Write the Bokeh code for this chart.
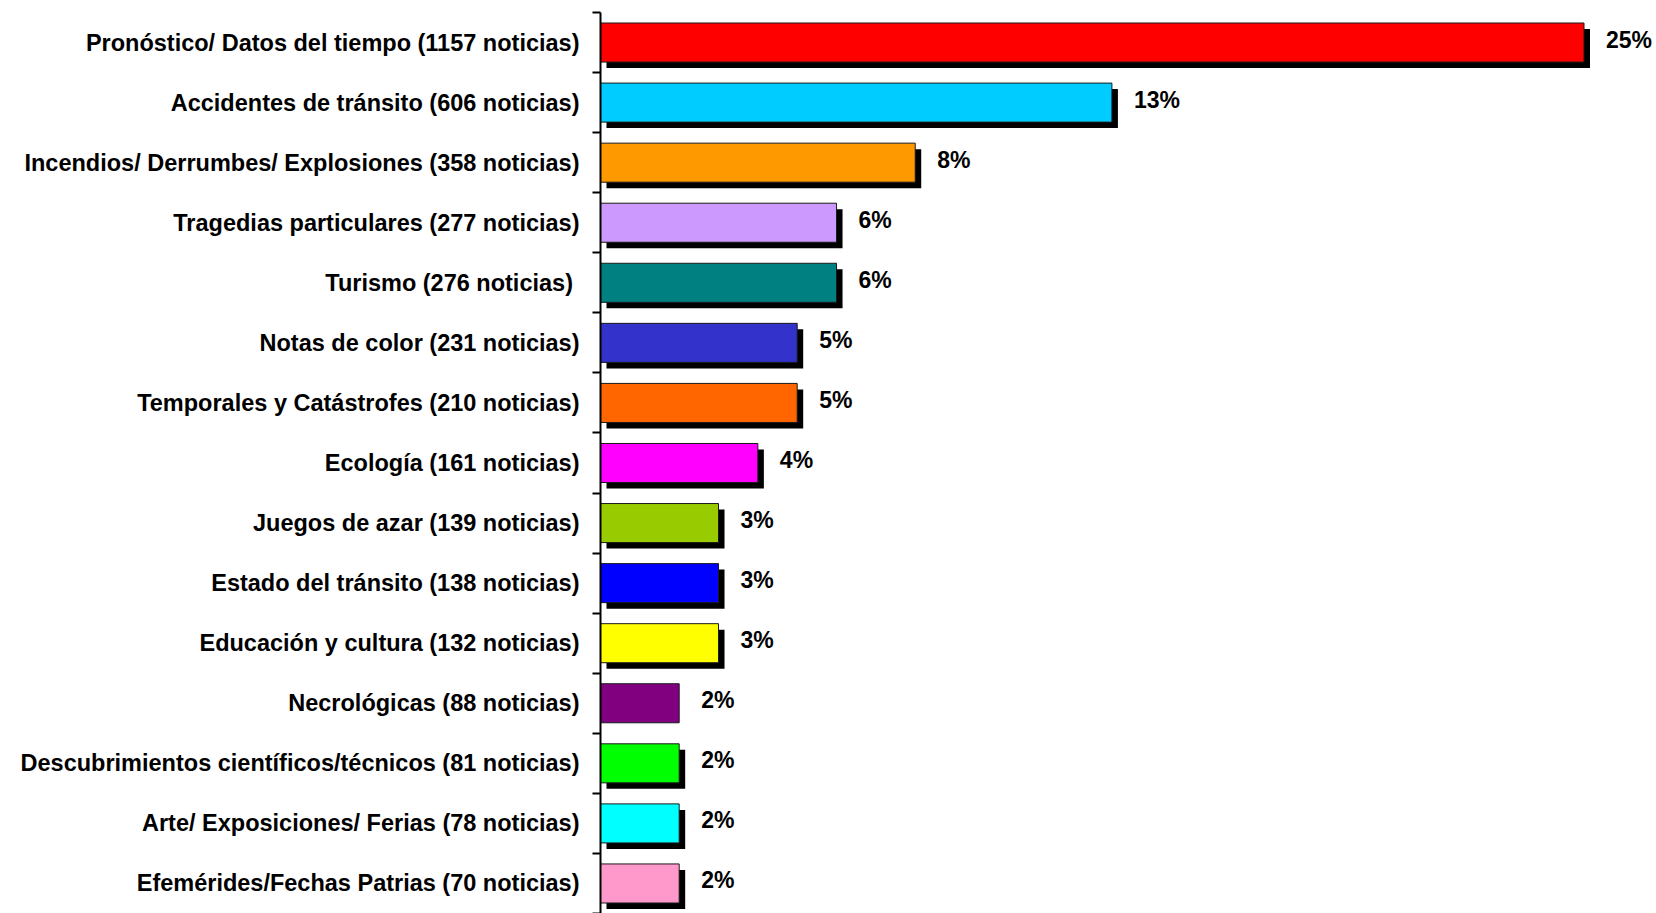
from bokeh.plotting import figure
from bokeh.models import ColumnDataSource, Range1d, FixedTicker, LabelSet
from bokeh.core.properties import value
from bokeh.embed import file_html
from bokeh.resources import INLINE

categories = [
    "Pronóstico/ Datos del tiempo (1157 noticias)",
    "Accidentes de tránsito (606 noticias)",
    "Incendios/ Derrumbes/ Explosiones (358 noticias)",
    "Tragedias particulares (277 noticias)",
    "Turismo (276 noticias) ",
    "Notas de color (231 noticias)",
    "Temporales y Catástrofes (210 noticias)",
    "Ecología (161 noticias)",
    "Juegos de azar (139 noticias)",
    "Estado del tránsito (138 noticias)",
    "Educación y cultura (132 noticias)",
    "Necrológicas (88 noticias)",
    "Descubrimientos científicos/técnicos (81 noticias)",
    "Arte/ Exposiciones/ Ferias (78 noticias)",
    "Efemérides/Fechas Patrias (70 noticias)",
]
percent = [25, 13, 8, 6, 6, 5, 5, 4, 3, 3, 3, 2, 2, 2, 2]
pct_labels = ["25%", "13%", "8%", "6%", "6%", "5%", "5%", "4%", "3%", "3%", "3%", "2%", "2%", "2%", "2%"]

# styles
colors = ["#FF0000", "#00CCFF", "#FF9900", "#CC99FF", "#008080", "#3333CC", "#FF6600",
          "#FF00FF", "#99CC00", "#0000FF", "#FFFF00", "#800080", "#00FF00", "#00FFFF", "#FF99CC"]
has_shadow = [True] * 11 + [False] + [True] * 3

N = len(categories)
W, H = 1656, 913
left_border, top_border = 600, 12
frame_w = W - left_border
frame_h = H - top_border
px_per_pct = 39.34
x_end = frame_w / px_per_pct
px_per_row = frame_h / N
sh_dx = 6 / px_per_pct
sh_dy = 6 / px_per_row
bar_h = 0.65

ys = [N - i for i in range(N)]
bounds = [k + 0.5 for k in range(N + 1)]

src = ColumnDataSource(dict(y=ys, pct=percent, lab=pct_labels, color=colors))
sh = [i for i in range(N) if has_shadow[i]]
shadow_src = ColumnDataSource(dict(
    y=[ys[i] - sh_dy for i in sh],
    left=[sh_dx for i in sh],
    right=[percent[i] + sh_dx for i in sh],
))

p = figure(width=W, height=H, output_backend="svg", toolbar_location=None,
           x_range=Range1d(0, x_end), y_range=Range1d(0.5, N + 0.5),
           x_axis_location=None, min_border_left=left_border, min_border_top=top_border,
           min_border_bottom=0, min_border_right=0, outline_line_color=None,
           background_fill_color="white", border_fill_color="white")

p.hbar(y="y", left="left", right="right", height=bar_h, source=shadow_src,
       fill_color="black", line_color=None)
p.hbar(y="y", left=0, right="pct", height=bar_h, source=src,
       fill_color="color", line_color="#1a1a1a", line_width=1)

labels = LabelSet(x="pct", y="y", text="lab", source=src, x_offset=22, y_offset=3,
                  text_font=value("Liberation Sans"), text_font_style="bold",
                  text_font_size="23px", text_baseline="middle", text_color="black")
p.add_layout(labels)

p.xgrid.visible = False
p.ygrid.visible = False

ax = p.yaxis[0]
ax.ticker = FixedTicker(ticks=ys, minor_ticks=bounds)
ax.major_label_overrides = {ys[i]: categories[i] for i in range(N)}
ax.major_tick_out = 0
ax.major_tick_in = 0
ax.minor_tick_out = 8
ax.minor_tick_in = 0
ax.minor_tick_line_width = 2
ax.minor_tick_line_color = "black"
ax.axis_line_width = 2
ax.axis_line_color = "black"
ax.major_label_standoff = 13
ax.major_label_text_font = "Liberation Sans"
ax.major_label_text_font_style = "bold"
ax.major_label_text_font_size = "23.5px"
ax.major_label_text_color = "black"

open("out.html", "w").write(file_html(p, INLINE))
